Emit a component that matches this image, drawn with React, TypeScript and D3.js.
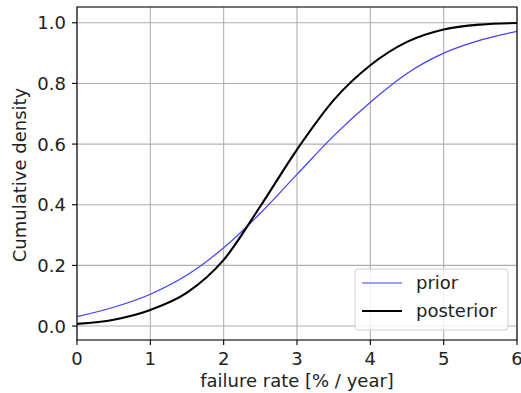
import * as d3 from "d3";
import React from "react";

// failure rate grid [% / year]
const rates = [0, 0.5, 1, 1.5, 2, 2.5, 3, 3.5, 4, 4.5, 5, 5.5, 6];
// cumulative densities
const prior = [0.031, 0.062, 0.105, 0.168, 0.258, 0.372, 0.5, 0.627, 0.738, 0.833, 0.9, 0.943, 0.972];
const posterior = [0.007, 0.021, 0.053, 0.11, 0.218, 0.395, 0.582, 0.745, 0.86, 0.937, 0.978, 0.994, 0.999];
const xTicks = [0, 1, 2, 3, 4, 5, 6];
const yTicks = [0, 0.2, 0.4, 0.6, 0.8, 1.0];

const W = 521;
const H = 393;
const margin = { top: 7, right: 4, bottom: 53, left: 77 };
const font = "DejaVu Sans, sans-serif";
const fs = 18;

const App: React.FC = () => {
  const x = d3.scaleLinear().domain([0, 6]).range([margin.left, W - margin.right]);
  const y = d3.scaleLinear().domain([-0.046, 1.052]).range([H - margin.bottom, margin.top]);

  const line = d3
    .line<[number, number]>()
    .x((d) => x(d[0]))
    .y((d) => y(d[1]))
    .curve(d3.curveMonotoneX);

  const priorPts = rates.map((r, i) => [r, prior[i]] as [number, number]);
  const postPts = rates.map((r, i) => [r, posterior[i]] as [number, number]);

  const left = margin.left;
  const right = W - margin.right;
  const top = margin.top;
  const bottom = H - margin.bottom;

  // legend box
  const lg = { x: 355, y: 269, w: 153, h: 61 };

  return (
    <svg
      width={W}
      height={H}
      style={{ position: "absolute", left: 0, top: 0, display: "block", background: "#fff" }}
      fontFamily={font}
    >
      <defs>
        <clipPath id="plot">
          <rect x={left} y={top} width={right - left} height={bottom - top} />
        </clipPath>
      </defs>

      {/* grid */}
      {xTicks.map((t) => (
        <line key={"gx" + t} x1={x(t)} x2={x(t)} y1={top} y2={bottom} stroke="#b0b0b0" strokeWidth={1.1} />
      ))}
      {yTicks.map((t) => (
        <line key={"gy" + t} x1={left} x2={right} y1={y(t)} y2={y(t)} stroke="#b0b0b0" strokeWidth={1.1} />
      ))}

      {/* curves */}
      <g clipPath="url(#plot)">
        <path d={line(priorPts) ?? ""} fill="none" stroke="#3f3fff" strokeWidth={1.2} />
        <path d={line(postPts) ?? ""} fill="none" stroke="#000" strokeWidth={2.1} />
      </g>

      {/* spines */}
      <rect x={left} y={top} width={right - left} height={bottom - top} fill="none" stroke="#000" strokeWidth={1.1} />

      {/* x ticks */}
      {xTicks.map((t) => (
        <g key={"xt" + t}>
          <line x1={x(t)} x2={x(t)} y1={bottom} y2={bottom + 5} stroke="#000" strokeWidth={1.1} />
          <text x={x(t)} y={365} textAnchor="middle" fontSize={fs} fill="#222">
            {t}
          </text>
        </g>
      ))}

      {/* y ticks */}
      {yTicks.map((t) => (
        <g key={"yt" + t}>
          <line x1={left - 5} x2={left} y1={y(t)} y2={y(t)} stroke="#000" strokeWidth={1.1} />
          <text x={66} y={y(t)} dy="0.36em" textAnchor="end" fontSize={fs} fill="#222">
            {t.toFixed(1)}
          </text>
        </g>
      ))}

      {/* axis labels */}
      <text x={(left + right) / 2} y={387} textAnchor="middle" fontSize={fs} fill="#222">
        failure rate [% / year]
      </text>
      <text
        transform={`translate(26,175) rotate(-90)`}
        textAnchor="middle"
        fontSize={fs}
        fill="#222"
      >
        Cumulative density
      </text>

      {/* legend */}
      <rect x={lg.x} y={lg.y} width={lg.w} height={lg.h} rx={3} fill="#fff" fillOpacity={0.8} stroke="#d0d0d0" strokeWidth={1} />
      <line x1={362} x2={402} y1={283} y2={283} stroke="#3f3fff" strokeWidth={1.2} />
      <text x={416} y={283} dy="0.36em" fontSize={fs} fill="#222">
        prior
      </text>
      <line x1={362} x2={402} y1={311} y2={311} stroke="#000" strokeWidth={2.1} />
      <text x={416} y={311} dy="0.36em" fontSize={fs} fill="#222">
        posterior
      </text>
    </svg>
  );
};

export default App;
